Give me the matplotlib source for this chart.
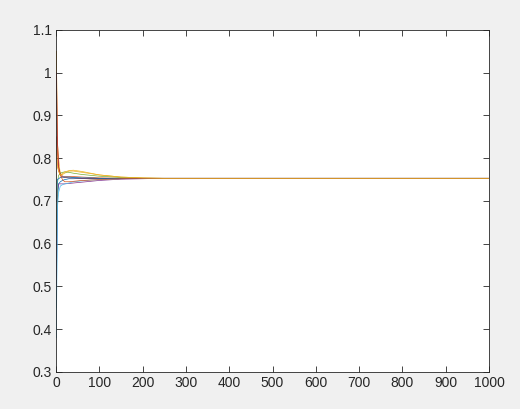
import matplotlib
matplotlib.use("Agg")
import matplotlib.pyplot as plt

x = [1, 3, 6, 10, 15, 20, 30, 40, 60, 80, 100, 150, 200, 250, 1000]

s_blue1   = [0.45, 0.70, 0.740, 0.745, 0.748, 0.750, 0.752, 0.752, 0.753, 0.753, 0.753, 0.753, 0.753, 0.753, 0.753]
s_orange1 = [1.05, 0.82, 0.780, 0.765, 0.758, 0.757, 0.757, 0.757, 0.756, 0.755, 0.754, 0.753, 0.753, 0.753, 0.753]
s_yellow1 = [1.05, 0.84, 0.800, 0.760, 0.762, 0.765, 0.770, 0.770, 0.767, 0.764, 0.761, 0.756, 0.754, 0.753, 0.753]
s_purple  = [0.50, 0.72, 0.740, 0.740, 0.740, 0.740, 0.741, 0.742, 0.744, 0.746, 0.748, 0.751, 0.752, 0.753, 0.753]
s_green   = [0.62, 0.74, 0.760, 0.765, 0.767, 0.768, 0.767, 0.765, 0.762, 0.760, 0.758, 0.755, 0.753, 0.753, 0.753]
s_lblue1  = [0.38, 0.68, 0.720, 0.735, 0.738, 0.740, 0.742, 0.745, 0.747, 0.749, 0.750, 0.752, 0.753, 0.753, 0.753]
s_dred    = [1.00, 0.85, 0.780, 0.760, 0.756, 0.755, 0.754, 0.754, 0.753, 0.753, 0.753, 0.753, 0.753, 0.753, 0.753]
s_blue2   = [0.70, 0.75, 0.752, 0.755, 0.756, 0.756, 0.756, 0.755, 0.754, 0.754, 0.753, 0.753, 0.753, 0.753, 0.753]
s_orange2 = [0.85, 0.79, 0.770, 0.760, 0.750, 0.745, 0.745, 0.746, 0.748, 0.749, 0.750, 0.752, 0.753, 0.753, 0.753]
s_yellow2 = [0.82, 0.78, 0.770, 0.760, 0.764, 0.768, 0.771, 0.772, 0.769, 0.765, 0.761, 0.756, 0.754, 0.753, 0.753]

series = [s_blue1, s_orange1, s_yellow1, s_purple, s_green, s_lblue1, s_dred,
          s_blue2, s_orange2, s_yellow2]
colors = ["#0072BD", "#D95319", "#EDB120", "#7E2F8E", "#77AC30", "#4DBEEE", "#A2142F"]

plt.rcParams['font.family'] = ['Liberation Sans', 'DejaVu Sans']
fig = plt.figure(figsize=(5.2, 4.09), dpi=100, facecolor="#f0f0f0")
ax = fig.add_axes([0.1077, 0.0905, 0.8327, 0.8362])
ax.set_facecolor("white")
for i, s in enumerate(series):
    ax.plot(x, s, color=colors[i % len(colors)], lw=0.5)

ax.set_xlim(0, 1000)
ax.set_ylim(0.3, 1.1)
ax.set_xticks(range(0, 1001, 100))
yt = [0.3, 0.4, 0.5, 0.6, 0.7, 0.8, 0.9, 1.0, 1.1]
ax.set_yticks(yt)
ax.set_yticklabels(["0.3", "0.4", "0.5", "0.6", "0.7", "0.8", "0.9", "1", "1.1"])
ax.tick_params(direction="in", top=True, right=True, length=4, width=0.6,
               colors="#262626", labelsize=10, pad=3)
for sp in ax.spines.values():
    sp.set_color("#262626")
    sp.set_linewidth(0.6)
fig.savefig("out.png", dpi=100, facecolor=fig.get_facecolor())
